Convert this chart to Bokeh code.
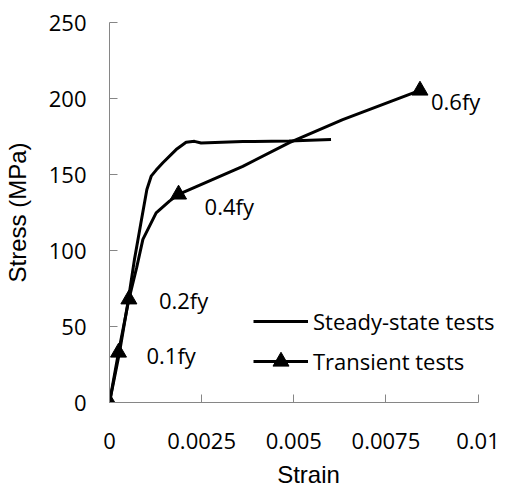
from bokeh.plotting import figure
from bokeh.models import Range1d, FixedTicker, Legend, LegendItem, ColumnDataSource
from bokeh.embed import file_html
from bokeh.resources import INLINE
from bokeh.core.properties import value

# ---- data ----
steady_strain = [0, 0.000271, 0.000499, 0.000678, 0.000846, 0.001014, 0.001131, 0.001266,
                 0.001448, 0.001808, 0.002079, 0.002305, 0.002486, 0.003617, 0.004873, 0.006011]
steady_stress = [0, 32.9, 65.7, 94.2, 117.2, 140.1, 148.9, 152.9,
                 157.7, 166.4, 171.2, 171.8, 170.7, 171.7, 172.0, 173.0]

transient_strain = [0, 0.000244, 0.000526, 0.000738, 0.000906, 0.001266, 0.001627, 0.001874,
                    0.003617, 0.004881, 0.006329, 0.008425]
transient_stress = [0, 32.9, 67.9, 88.9, 107.3, 124.8, 132.5, 136.9,
                    155.4, 171.0, 186.1, 205.3]

test_strain = [0, 0.000244, 0.000526, 0.001874, 0.008425]
test_stress = [0, 32.9, 67.9, 136.9, 205.3]

label_strain = [0.000244, 0.000526, 0.001874, 0.008425]
label_stress = [32.9, 67.9, 136.9, 205.3]
label_text = ["0.1fy", "0.2fy", "0.4fy", "0.6fy"]

x_ticks = [0, 0.0025, 0.005, 0.0075, 0.01]
x_tick_labels = ["0", "0.0025", "0.005", "0.0075", "0.01"]
y_ticks = [0, 50, 100, 150, 200, 250]
y_tick_labels = ["0", "50", "100", "150", "200", "250"]

series_names = ["Steady-state tests", "Transient tests"]

TICK_FONT = "Open Sans"
TITLE_FONT = "Liberation Sans"
AXIS_GRAY = "#868686"

p = figure(frame_width=398, frame_height=380,
           min_border_left=108, min_border_right=0, min_border_top=22, min_border_bottom=60,
           x_range=Range1d(0, 0.0108), y_range=Range1d(0, 250),
           output_backend="svg", toolbar_location=None,
           background_fill_color="white", border_fill_color="white")
p.outline_line_color = None
p.grid.visible = False

for ax, ticks, labels in ((p.xaxis[0], x_ticks, x_tick_labels), (p.yaxis[0], y_ticks, y_tick_labels)):
    ax.ticker = FixedTicker(ticks=ticks)
    ax.major_label_overrides = {t: l for t, l in zip(ticks, labels)}
    ax.bounds = (ticks[0], ticks[-1])
    ax.axis_line_color = AXIS_GRAY
    ax.axis_line_width = 1
    ax.major_tick_line_color = AXIS_GRAY
    ax.major_tick_in = 8
    ax.major_tick_out = 0
    ax.minor_tick_line_color = None
    ax.major_label_text_font = TICK_FONT
    ax.major_label_text_font_size = "22px"
    ax.major_label_text_color = "black"
    ax.axis_label_text_font = TITLE_FONT
    ax.axis_label_text_font_size = "24px"
    ax.axis_label_text_font_style = "normal"
    ax.axis_label_text_color = "black"

p.xaxis.axis_label = "Strain"
p.yaxis.axis_label = "Stress (MPa)"
p.xaxis.major_label_standoff = 30
p.xaxis.axis_label_standoff = 9
p.yaxis.major_label_standoff = 23
p.yaxis.axis_label_standoff = 15

steady = p.line(steady_strain, steady_stress, line_color="black", line_width=3, line_join="round")
trans_line = p.line(transient_strain, transient_stress, line_color="black", line_width=3, line_join="round")
trans_pts = p.scatter(test_strain, test_stress, marker="triangle", size=16,
                      fill_color="black", line_color="black")

lab_src = ColumnDataSource(dict(x=label_strain, y=label_stress, text=label_text,
                                xo=[28, 30, 26, 11], yo=[3, 1, 12, 11]))
p.text(x="x", y="y", text="text", source=lab_src, x_offset="xo", y_offset="yo",
       text_font=value(TICK_FONT), text_font_size="22px", text_color="black",
       text_baseline="middle", text_align="left")

legend = Legend(items=[LegendItem(label=series_names[0], renderers=[steady]),
                       LegendItem(label=series_names[1], renderers=[trans_line, trans_pts])],
                location=(144, 21), orientation="vertical",
                glyph_width=55, glyph_height=40, label_height=20, spacing=0,
                label_standoff=5, padding=0, margin=0,
                border_line_color=None, background_fill_alpha=0,
                label_text_font=TICK_FONT, label_text_font_size="22px",
                label_text_color="black")
p.add_layout(legend, "center")

open("out.html", "w").write(file_html(p, INLINE))
